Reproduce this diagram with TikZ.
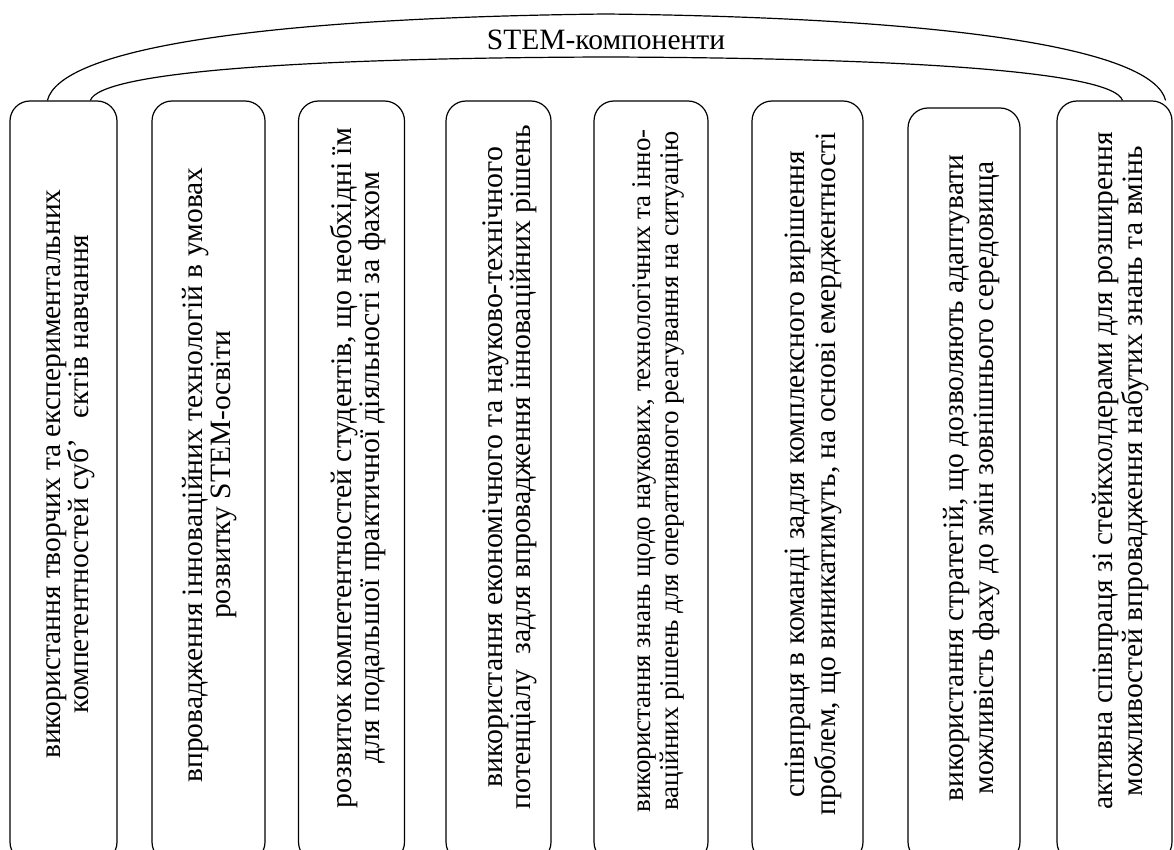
\documentclass[tikz,border=0pt]{standalone}
\usepackage{fontspec}
\setmainfont{Liberation Serif}
\usetikzlibrary{calc}
\begin{document}
\begin{tikzpicture}[x=1pt,y=-1pt,
  box/.style={draw, line width=1.2pt, rounded corners=20pt, inner sep=0pt},
  lbl/.style 2 args={rotate=90, align=center, inner sep=0pt, font=\fontsize{#1}{#2}\selectfont},
  arch/.style={line width=1.2pt}]
\useasboundingbox (0,0) rectangle (1174,850);
\clip (0,0) rectangle (1174,850);
\node[box, minimum width=107pt, minimum height=761pt] (b1) at (63.5,481.5) {};
\node[box, minimum width=113pt, minimum height=761pt] (b2) at (208.5,481.5) {};
\node[box, minimum width=106pt, minimum height=761pt] (b3) at (351.5,481.5) {};
\node[box, minimum width=105pt, minimum height=761pt] (b4) at (498.5,481.5) {};
\node[box, minimum width=114pt, minimum height=761pt] (b5) at (651,481.5) {};
\node[box, minimum width=111pt, minimum height=761pt] (b6) at (807.5,481.5) {};
\node[box, minimum width=112pt, minimum height=754pt] (b7) at (964,485) {};
\node[box, minimum width=115pt, minimum height=761pt] (b8) at (1114.5,481.5) {};

\node[lbl={29.5}{27}] (t1) at (71,474) {використання творчих та експериментальних\\компетентностей суб’\hspace{0.7em}єктів навчання};
\node[lbl={29.5}{28}] (t2) at (210,475) {впровадження інноваційних технологій в умовах\\розвитку STEM-освіти};
\node[lbl={29.8}{23}] (t3) at (358,468) {розвиток компетентностей студентів, що необхідні їм\\для подальшої практичної діяльності за фахом};
\node[lbl={29.8}{25}] (t4) at (510,467) {використання економічного та науково-технічного\\потенціалу\ \ задля впровадження інноваційних рішень};
\node[lbl={27}{28}] (t5) at (658,471) {використання знань щодо наукових, технологічних та інно-\\ваційних рішень для оперативного реагування на ситуацію};
\node[lbl={29.5}{31}] (t6) at (813,474) {співпраця в команді задля комплексного вирішення\\проблем, що виникатимуть, на основі емерджентності};
\node[lbl={29.5}{30}] (t7) at (972,478) {використання стратегій, що дозволяють адаптувати\\можливість фаху до змін зовнішнього середовища};
\node[lbl={29.5}{30}] (t8) at (1121,471) {активна співпраця зі стейкхолдерами для розширення\\можливостей впровадження набутих знань та вмінь};

\node[font=\fontsize{29.5}{33}\selectfont, anchor=base, inner sep=0pt] (title) at (606,50) {STEM-компоненти};

\coordinate (oL) at ($(b1.north west)+(38,0)$);
\coordinate (iL) at ($(b1.north west)+(81,0)$);
\coordinate (oR) at ($(b8.north east)+(-7,0)$);
\coordinate (iR) at ($(b8.north west)+(66,0)$);
\draw[arch] (oL) .. controls (60,50) and (250,18) .. (606,14) .. controls (962,18) and (1153,50) .. (oR);
\draw[arch] (iL) .. controls (100,72) and (300,58) .. (606,57) .. controls (912,58) and (1114,72) .. (iR);
\end{tikzpicture}
\end{document}
